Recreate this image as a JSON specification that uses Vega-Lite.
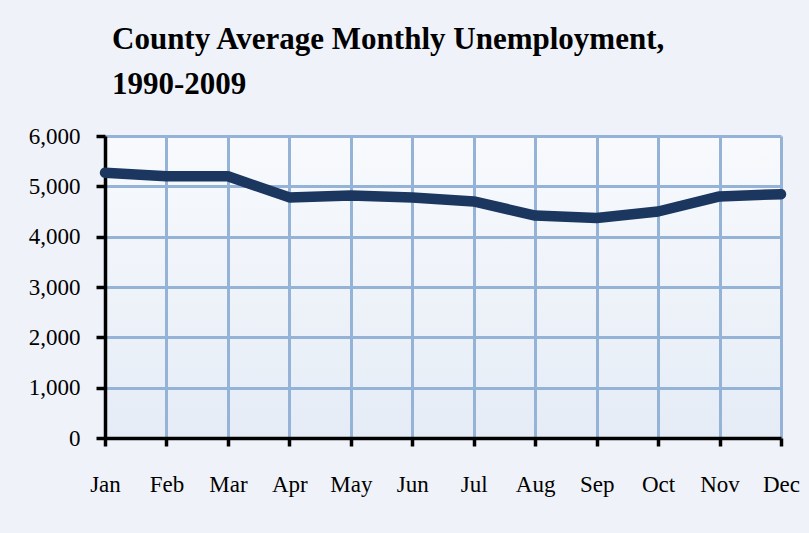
{
  "$schema": "https://vega.github.io/schema/vega-lite/v6.json",
  "autosize": "none",
  "width": 676,
  "height": 302,
  "padding": {"left": 105, "top": 136, "right": 28, "bottom": 95},
  "background": "#eff3f9",
  "title": {
    "text": ["County Average Monthly Unemployment,", "1990-2009"],
    "anchor": "start",
    "frame": "group",
    "dx": 7,
    "offset": 24,
    "font": "Liberation Serif",
    "fontSize": 31,
    "fontWeight": "bold",
    "color": "#000000",
    "lineHeight": 45
  },
  "data": {
    "values": [
      {"month": "Jan", "value": 5270},
      {"month": "Feb", "value": 5200},
      {"month": "Mar", "value": 5200},
      {"month": "Apr", "value": 4780},
      {"month": "May", "value": 4820},
      {"month": "Jun", "value": 4780},
      {"month": "Jul", "value": 4700},
      {"month": "Aug", "value": 4420},
      {"month": "Sep", "value": 4370},
      {"month": "Oct", "value": 4500},
      {"month": "Nov", "value": 4800},
      {"month": "Dec", "value": 4845}
    ]
  },
  "mark": {"type": "line", "color": "#1b365f", "strokeWidth": 10.5, "strokeCap": "round", "strokeJoin": "round"},
  "encoding": {
    "x": {
      "field": "month",
      "type": "ordinal",
      "sort": null,
      "scale": {"type": "point", "padding": 0},
      "axis": {
        "title": null,
        "labelAngle": 0,
        "labelFont": "Liberation Serif",
        "labelFontSize": 23,
        "labelColor": "#000000",
        "labelPadding": 27,
        "domainColor": "#000000",
        "domainWidth": 3.5,
        "tickColor": "#000000",
        "tickWidth": 3.5,
        "tickSize": 8,
        "grid": true,
        "gridColor": "#95b3d7",
        "gridWidth": 3
      }
    },
    "y": {
      "field": "value",
      "type": "quantitative",
      "scale": {"domain": [0, 6000]},
      "axis": {
        "title": null,
        "values": [0, 1000, 2000, 3000, 4000, 5000, 6000],
        "format": ",d",
        "labelFont": "Liberation Serif",
        "labelFontSize": 23,
        "labelColor": "#000000",
        "labelPadding": 16,
        "domainColor": "#000000",
        "domainWidth": 3.5,
        "tickColor": "#000000",
        "tickWidth": 3.5,
        "tickSize": 9,
        "grid": true,
        "gridColor": "#95b3d7",
        "gridWidth": 3
      }
    }
  },
  "config": {
    "view": {
      "stroke": null,
      "fill": {
        "gradient": "linear",
        "x1": 0, "y1": 0, "x2": 0, "y2": 1,
        "stops": [
          {"offset": 0, "color": "#f8fafd"},
          {"offset": 1, "color": "#e5ecf6"}
        ]
      }
    }
  }
}
